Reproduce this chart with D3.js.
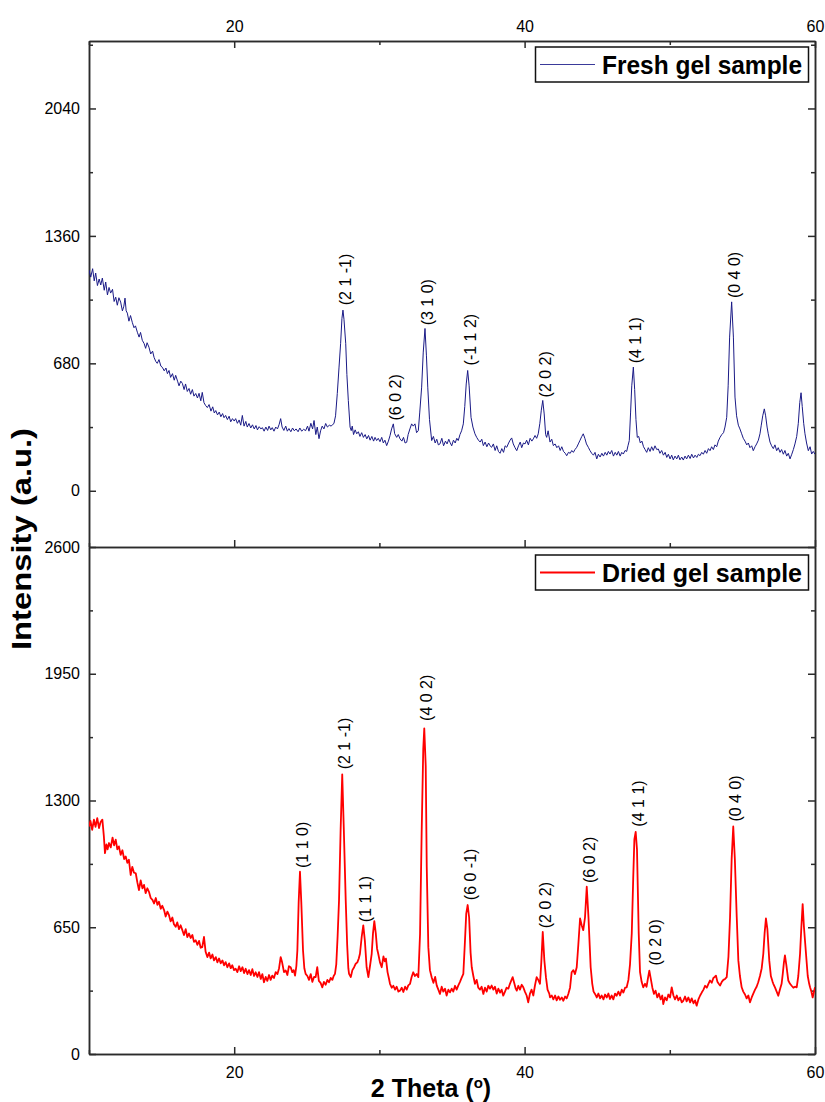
<!DOCTYPE html>
<html>
<head>
<meta charset="utf-8">
<script src="https://cdn.jsdelivr.net/npm/d3@7"></script>
<style>
  body { margin: 0; background: #fff; }
  svg { display: block; }
  text { font-family: "Liberation Sans", Arial, sans-serif; }
</style>
</head>
<body>
<div id="chart"></div>
<script>
// 2 theta (deg), intensity (a.u.)
const freshSeries = [
  [10.00,1178],[10.12,1140],[10.25,1185],[10.36,1120],[10.46,1162],[10.58,1095],[10.70,1130],[10.81,1098],[10.92,1135],[11.05,1070],
  [11.15,1114],[11.27,1045],[11.38,1085],[11.49,1055],[11.62,1075],[11.73,1010],[11.84,1033],[11.95,990],[12.06,1030],[12.18,1007],
  [12.30,960],[12.40,985],[12.48,1028],[12.56,960],[12.64,948],[12.75,905],[12.86,935],[12.98,899],[13.10,870],[13.20,880],
  [13.33,846],[13.45,820],[13.55,845],[13.67,803],[13.80,785],[13.90,760],[14.00,790],[14.13,766],[14.25,730],[14.38,745],
  [14.48,712],[14.60,690],[14.70,680],[14.82,700],[14.95,665],[15.05,659],[15.18,640],[15.30,655],[15.40,625],[15.51,642],
  [15.62,605],[15.75,625],[15.87,590],[15.97,616],[16.10,585],[16.20,560],[16.32,585],[16.43,573],[16.55,540],[16.65,570],
  [16.77,530],[16.89,546],[17.00,515],[17.12,540],[17.23,505],[17.35,519],[17.47,495],[17.58,520],[17.70,480],[17.80,525],
  [17.92,470],[18.03,455],[18.15,444],[18.27,460],[18.40,425],[18.52,448],[18.63,415],[18.73,428],[18.85,405],[18.97,420],
  [19.08,395],[19.20,412],[19.30,390],[19.41,402],[19.53,380],[19.65,398],[19.76,368],[19.88,385],[20.00,372],[20.10,385],
  [20.22,360],[20.34,378],[20.45,350],[20.56,402],[20.68,345],[20.80,370],[20.90,340],[21.02,359],[21.14,335],[21.26,352],
  [21.38,330],[21.50,348],[21.60,325],[21.72,342],[21.84,330],[21.94,337],[22.06,318],[22.18,340],[22.30,322],[22.40,345],
  [22.52,325],[22.62,337],[22.74,318],[22.86,340],[22.98,330],[23.10,355],[23.20,385],[23.30,340],[23.42,322],[23.55,345],
  [23.66,318],[23.77,332],[23.90,315],[24.02,335],[24.14,320],[24.26,330],[24.40,315],[24.52,335],[24.65,318],[24.78,328],
  [24.92,321],[25.05,345],[25.15,318],[25.28,360],[25.40,330],[25.50,375],[25.62,300],[25.72,340],[25.84,278],[25.95,320],
  [26.06,345],[26.18,330],[26.30,359],[26.42,340],[26.55,350],[26.68,345],[26.80,355],[26.87,359],[26.98,400],[27.10,519],
  [27.22,660],[27.33,787],[27.42,920],[27.49,964],[27.56,915],[27.68,787],[27.76,620],[27.86,482],[27.98,340],[28.06,321],
  [28.13,345],[28.22,300],[28.33,325],[28.44,304],[28.55,315],[28.66,290],[28.78,310],[28.90,285],[29.02,300],[29.13,277],
  [29.25,295],[29.36,270],[29.48,290],[29.60,265],[29.70,285],[29.81,268],[29.92,280],[30.04,262],[30.16,285],[30.27,255],
  [30.38,270],[30.50,241],[30.62,265],[30.73,294],[30.84,330],[30.96,357],[31.05,305],[31.19,285],[31.30,300],[31.42,277],
  [31.55,265],[31.66,285],[31.77,255],[31.88,259],[31.98,300],[32.10,330],[32.22,357],[32.33,345],[32.45,357],[32.56,310],
  [32.68,321],[32.78,420],[32.91,553],[33.02,740],[33.14,866],[33.24,720],[33.33,553],[33.45,380],[33.60,268],[33.72,290],
  [33.84,255],[33.95,275],[34.06,245],[34.17,250],[34.30,280],[34.42,240],[34.55,265],[34.66,250],[34.78,275],[34.86,259],
  [34.98,240],[35.10,270],[35.22,255],[35.33,280],[35.43,268],[35.55,300],[35.66,320],[35.78,357],[35.88,450],[35.98,570],
  [36.08,642],[36.18,560],[36.31,392],[36.44,340],[36.58,304],[36.70,285],[36.82,270],[36.94,260],[37.05,275],[37.16,241],
  [37.28,260],[37.40,235],[37.52,255],[37.62,240],[37.73,232],[37.85,250],[37.97,215],[38.08,240],[38.20,210],[38.31,200],
  [38.43,225],[38.55,205],[38.66,240],[38.77,232],[38.90,255],[39.00,270],[39.11,282],[39.22,250],[39.34,230],[39.46,214],
  [39.58,240],[39.70,260],[39.80,230],[39.92,255],[40.03,250],[40.14,270],[40.26,245],[40.38,280],[40.50,265],[40.60,277],
  [40.72,295],[40.83,280],[40.94,304],[41.05,360],[41.15,430],[41.25,482],[41.35,410],[41.45,300],[41.52,285],[41.62,320],
  [41.75,260],[41.87,275],[41.98,241],[42.10,250],[42.22,230],[42.34,240],[42.45,215],[42.56,235],[42.68,210],[42.80,200],
  [42.90,187],[43.02,205],[43.14,200],[43.25,215],[43.36,205],[43.47,220],[43.59,232],[43.70,250],[43.82,270],[43.94,290],
  [44.04,304],[44.15,280],[44.26,250],[44.39,232],[44.50,215],[44.62,200],[44.74,190],[44.85,205],[44.97,170],[45.08,195],
  [45.20,180],[45.32,200],[45.43,185],[45.55,205],[45.66,190],[45.77,210],[45.88,196],[46.00,215],[46.12,185],[46.24,205],
  [46.35,190],[46.46,210],[46.58,185],[46.69,205],[46.80,196],[46.92,215],[47.03,210],[47.12,240],[47.21,268],[47.30,420],
  [47.38,560],[47.49,660],[47.58,540],[47.67,380],[47.76,285],[47.86,290],[47.97,255],[48.08,265],[48.19,235],[48.30,220],
  [48.41,205],[48.52,230],[48.64,210],[48.75,235],[48.86,215],[48.98,240],[49.10,220],[49.21,223],[49.32,200],[49.44,215],
  [49.56,190],[49.68,205],[49.79,178],[49.90,195],[50.02,170],[50.13,190],[50.24,165],[50.36,185],[50.48,170],[50.59,190],
  [50.70,165],[50.82,180],[50.93,164],[51.05,185],[51.16,170],[51.28,190],[51.40,172],[51.51,195],[51.63,175],[51.74,190],
  [51.86,178],[51.97,195],[52.08,187],[52.20,205],[52.31,195],[52.43,215],[52.54,200],[52.66,225],[52.77,214],[52.88,235],
  [53.00,220],[53.11,245],[53.23,235],[53.34,265],[53.46,285],[53.58,300],[53.70,310],[53.80,340],[53.92,392],[54.02,560],
  [54.12,820],[54.26,1008],[54.38,820],[54.49,500],[54.60,400],[54.72,350],[54.83,330],[54.95,304],[55.06,280],[55.18,265],
  [55.30,245],[55.41,255],[55.52,230],[55.64,240],[55.75,214],[55.87,235],[55.98,250],[56.10,270],[56.21,304],[56.30,350],
  [56.40,400],[56.51,437],[56.60,400],[56.70,340],[56.78,304],[56.90,260],[57.01,240],[57.13,225],[57.24,245],[57.36,214],
  [57.47,230],[57.59,205],[57.70,220],[57.82,195],[57.93,215],[58.05,185],[58.16,200],[58.28,170],[58.40,195],[58.51,220],
  [58.62,250],[58.74,290],[58.85,360],[58.95,470],[59.04,523],[59.12,450],[59.22,360],[59.31,304],[59.42,255],[59.54,214],
  [59.66,235],[59.77,196],[59.88,210],[60.00,195]
];

const driedSeries = [
  [10.00,1167],[10.10,1195],[10.22,1150],[10.34,1202],[10.45,1165],[10.57,1210],[10.69,1159],[10.80,1190],[10.92,1202],[11.02,1120],
  [11.10,1030],[11.20,1075],[11.28,1050],[11.38,1082],[11.50,1060],[11.62,1110],[11.73,1070],[11.84,1099],[11.95,1050],[12.06,1065],
  [12.18,1021],[12.30,1045],[12.42,1000],[12.53,1013],[12.64,980],[12.75,996],[12.87,918],[12.98,960],[13.10,930],[13.22,927],
  [13.33,880],[13.44,841],[13.56,890],[13.68,850],[13.79,867],[13.90,825],[14.02,850],[14.13,832],[14.25,800],[14.37,790],
  [14.48,772],[14.60,800],[14.71,765],[14.82,781],[14.94,745],[15.05,760],[15.17,738],[15.28,705],[15.40,730],[15.51,712],
  [15.62,680],[15.74,700],[15.85,665],[15.97,652],[16.08,675],[16.20,640],[16.31,660],[16.43,635],[16.54,610],[16.66,640],
  [16.77,600],[16.89,618],[17.00,595],[17.12,610],[17.23,575],[17.35,583],[17.46,560],[17.58,580],[17.69,545],[17.80,548],
  [17.92,600],[18.03,525],[18.15,497],[18.27,520],[18.38,490],[18.50,510],[18.61,480],[18.73,497],[18.84,470],[18.96,490],
  [19.07,465],[19.19,480],[19.30,455],[19.41,471],[19.53,445],[19.65,465],[19.76,440],[19.87,455],[19.99,430],[20.10,437],
  [20.22,420],[20.34,450],[20.45,425],[20.57,445],[20.68,415],[20.79,437],[20.91,410],[21.02,430],[21.14,405],[21.25,435],
  [21.37,400],[21.48,419],[21.60,395],[21.71,420],[21.83,385],[21.94,410],[22.05,368],[22.17,395],[22.28,375],[22.40,405],
  [22.51,380],[22.62,402],[22.74,390],[22.86,420],[22.98,410],[23.09,440],[23.20,497],[23.30,470],[23.43,420],[23.55,428],
  [23.66,405],[23.77,450],[23.89,445],[24.00,420],[24.10,430],[24.19,402],[24.28,450],[24.35,531],[24.44,780],[24.53,935],
  [24.62,780],[24.74,531],[24.83,440],[24.92,411],[25.04,400],[25.15,380],[25.27,410],[25.38,370],[25.50,395],[25.61,394],
  [25.72,445],[25.83,375],[25.95,365],[26.07,342],[26.18,370],[26.30,355],[26.42,380],[26.53,368],[26.65,390],[26.76,380],
  [26.85,400],[26.94,411],[27.03,460],[27.12,600],[27.22,789],[27.33,1150],[27.44,1434],[27.55,1150],[27.68,789],[27.78,560],
  [27.86,440],[27.91,411],[28.03,395],[28.14,430],[28.26,445],[28.37,463],[28.48,470],[28.58,490],[28.66,514],[28.78,600],
  [28.89,660],[29.00,580],[29.12,445],[29.24,394],[29.35,450],[29.47,514],[29.56,620],[29.65,681],[29.75,620],[29.84,540],
  [29.92,514],[30.04,470],[30.16,445],[30.28,500],[30.37,475],[30.45,489],[30.56,420],[30.65,390],[30.73,360],[30.85,340],
  [30.96,350],[31.08,330],[31.19,345],[31.31,320],[31.42,325],[31.54,340],[31.65,318],[31.77,345],[31.88,330],[31.99,352],
  [32.11,360],[32.22,395],[32.33,419],[32.45,400],[32.57,410],[32.68,394],[32.80,617],[32.91,1133],[33.02,1563],[33.09,1670],
  [33.19,1477],[33.26,961],[33.37,548],[33.48,430],[33.60,394],[33.72,365],[33.84,395],[33.95,351],[34.06,330],[34.17,308],
  [34.29,345],[34.40,320],[34.52,335],[34.63,300],[34.75,330],[34.86,316],[34.98,335],[35.09,320],[35.21,350],[35.32,330],
  [35.43,351],[35.55,370],[35.66,390],[35.78,411],[35.88,560],[35.98,720],[36.08,764],[36.18,700],[36.28,520],[36.36,445],
  [36.47,400],[36.58,360],[36.70,380],[36.81,340],[36.93,330],[37.04,345],[37.16,308],[37.27,340],[37.39,320],[37.50,350],
  [37.62,335],[37.73,351],[37.85,330],[37.96,345],[38.08,310],[38.19,335],[38.31,315],[38.42,330],[38.53,299],[38.65,320],
  [38.76,340],[38.88,335],[38.99,360],[39.10,380],[39.18,394],[39.30,360],[39.39,335],[39.46,325],[39.57,350],[39.68,330],
  [39.80,355],[39.91,342],[40.02,320],[40.14,300],[40.25,265],[40.37,310],[40.48,330],[40.60,300],[40.71,350],[40.83,394],
  [40.94,380],[41.06,360],[41.15,470],[41.25,626],[41.36,480],[41.47,394],[41.58,330],[41.70,310],[41.75,290],[41.87,300],
  [41.98,280],[42.10,300],[42.21,275],[42.33,295],[42.44,278],[42.56,290],[42.67,273],[42.79,295],[42.90,285],[43.01,308],
  [43.13,340],[43.24,419],[43.36,430],[43.47,410],[43.59,445],[43.70,560],[43.82,695],[43.93,660],[44.04,635],[44.16,700],
  [44.28,858],[44.40,700],[44.55,445],[44.66,360],[44.75,320],[44.85,308],[44.97,290],[45.08,310],[45.20,285],[45.31,300],
  [45.43,280],[45.54,305],[45.66,290],[45.77,310],[45.88,282],[46.00,300],[46.11,280],[46.23,310],[46.34,299],[46.46,320],
  [46.57,300],[46.69,330],[46.80,315],[46.92,340],[47.03,342],[47.15,380],[47.26,460],[47.38,618],[47.48,900],[47.56,1100],
  [47.65,1139],[47.74,1050],[47.86,618],[47.95,420],[48.06,370],[48.17,342],[48.29,360],[48.40,345],[48.50,390],[48.59,428],
  [48.68,390],[48.80,340],[48.91,308],[49.02,325],[49.14,290],[49.25,310],[49.37,280],[49.48,300],[49.55,256],[49.67,290],
  [49.79,275],[49.90,305],[50.02,290],[50.13,342],[50.25,300],[50.36,280],[50.48,300],[50.59,275],[50.71,290],[50.82,265],
  [50.93,273],[51.05,295],[51.16,270],[51.28,290],[51.40,265],[51.51,285],[51.63,260],[51.74,275],[51.85,248],[51.97,280],
  [52.09,300],[52.20,315],[52.32,330],[52.43,350],[52.55,340],[52.66,360],[52.77,377],[52.89,365],[53.00,390],[53.09,395],
  [53.18,402],[53.28,370],[53.37,360],[53.46,351],[53.58,370],[53.69,380],[53.81,385],[53.92,394],[54.04,500],[54.15,703],
  [54.26,1000],[54.37,1167],[54.48,1000],[54.61,703],[54.72,480],[54.83,400],[54.95,342],[55.06,320],[55.18,305],[55.29,285],
  [55.41,300],[55.52,265],[55.64,290],[55.75,310],[55.87,330],[55.98,345],[56.09,368],[56.21,400],[56.33,440],[56.44,514],
  [56.53,620],[56.62,695],[56.72,640],[56.85,480],[56.96,400],[57.08,370],[57.13,360],[57.25,340],[57.36,320],[57.47,299],
  [57.58,330],[57.70,360],[57.78,411],[57.86,470],[57.93,506],[58.02,460],[58.16,377],[58.28,360],[58.39,350],[58.51,340],
  [58.62,345],[58.74,342],[58.85,400],[58.97,514],[59.06,650],[59.15,769],[59.24,650],[59.38,514],[59.50,400],[59.60,360],
  [59.66,342],[59.75,320],[59.84,290],[59.93,320],[60.00,342]
];

// [label, 2 theta of the peak, intensity where the label starts]
const freshPeaks = [
  ["(2 1 -1)", 27.49, 990], ["(6 0 2)", 30.96, 375], ["(3 1 0)", 33.14, 883], ["(-1 1 2)", 36.08, 669],
  ["(2 0 2)", 41.25, 498], ["(4 1 1)", 47.49, 680], ["(0 4 0)", 54.26, 1028]
];
const driedPeaks = [
  ["(1 1 0)", 24.53, 954], ["(2 1 -1)", 27.44, 1460], ["(1 1 1)", 28.89, 676], ["(4 0 2)", 33.09, 1708],
  ["(6 0 -1)", 36.08, 789], ["(2 0 2)", 41.25, 645], ["(6 0 2)", 44.28, 877], ["(4 1 1)", 47.65, 1166],
  ["(0 2 0)", 48.85, 454], ["(0 4 0)", 54.37, 1192]
];

const xMajorTicks = [20, 40, 60];
const xMinorTicks = [10, 30, 50];
const freshYTicks = [0, 680, 1360, 2040];
const freshYMinor = [340, 1020, 1700, 2380];
const driedYTicks = [0, 650, 1300, 1950, 2600];
const driedYMinor = [325, 975, 1625, 2275];

const W = 825, H = 1102;
const plotLeft = 89, plotRight = 815, plotTop = 41, plotMid = 547, plotBottom = 1054;
const axisColor = "#2b2b2b";
const fmt = d3.format("d");

const svg = d3.select("#chart").append("svg")
    .attr("width", W)
    .attr("height", H);

const x = d3.scaleLinear().domain([10, 60]).range([plotLeft, plotRight]);
const yFresh = d3.scaleLinear().domain([-300, 2400]).range([plotMid, plotTop]);
const yDried = d3.scaleLinear().domain([0, 2600]).range([plotBottom, plotMid]);

function addAxis(axis, transform) {
    const g = svg.append("g").attr("transform", transform).call(axis);
    g.attr("font-family", null);
    g.select(".domain").attr("stroke", axisColor).attr("stroke-width", 1.5);
    g.selectAll(".tick line").attr("stroke", axisColor).attr("stroke-width", 1.5);
    g.selectAll(".tick text")
        .attr("fill", "#000")
        .style("font-size", "16px");
    return g;
}

function drawPanel(y, yTicks, yMinor, y0, y1, id) {
    // left axis with labels
    addAxis(d3.axisLeft(y).tickValues(yTicks).tickSize(-7).tickSizeOuter(0).tickPadding(9).tickFormat(fmt),
        `translate(${plotLeft},0)`);
    addAxis(d3.axisLeft(y).tickValues(yMinor).tickSize(-4).tickSizeOuter(0).tickFormat(""),
        `translate(${plotLeft},0)`);
    // right axis, ticks only
    addAxis(d3.axisRight(y).tickValues(yTicks).tickSize(-7).tickSizeOuter(0).tickFormat(""),
        `translate(${plotRight},0)`);
    addAxis(d3.axisRight(y).tickValues(yMinor).tickSize(-4).tickSizeOuter(0).tickFormat(""),
        `translate(${plotRight},0)`);

    svg.append("clipPath").attr("id", id)
        .append("rect")
        .attr("x", plotLeft).attr("y", y1)
        .attr("width", plotRight - plotLeft).attr("height", y0 - y1);
}

drawPanel(yFresh, freshYTicks, freshYMinor, plotMid, plotTop, "clip-fresh");
drawPanel(yDried, driedYTicks, driedYMinor, plotBottom, plotMid, "clip-dried");

// top x axis of the fresh panel (labelled)
addAxis(d3.axisTop(x).tickValues(xMajorTicks).tickSize(-7).tickSizeOuter(0).tickPadding(9).tickFormat(fmt),
    `translate(0,${plotTop})`);
addAxis(d3.axisTop(x).tickValues(xMinorTicks).tickSize(-4).tickSizeOuter(0).tickFormat(""),
    `translate(0,${plotTop})`);
// shared line between the panels, ticks point into the fresh panel
addAxis(d3.axisBottom(x).tickValues(xMajorTicks).tickSize(-7).tickSizeOuter(0).tickFormat(""),
    `translate(0,${plotMid})`);
addAxis(d3.axisBottom(x).tickValues(xMinorTicks).tickSize(-4).tickSizeOuter(0).tickFormat(""),
    `translate(0,${plotMid})`);
// bottom x axis (labelled)
addAxis(d3.axisBottom(x).tickValues(xMajorTicks).tickSize(-7).tickSizeOuter(0).tickPadding(13).tickFormat(fmt),
    `translate(0,${plotBottom})`);
addAxis(d3.axisBottom(x).tickValues(xMinorTicks).tickSize(-4).tickSizeOuter(0).tickFormat(""),
    `translate(0,${plotBottom})`);

// patterns
const lineFresh = d3.line().x(d => x(d[0])).y(d => yFresh(d[1]));
const lineDried = d3.line().x(d => x(d[0])).y(d => yDried(d[1]));

svg.append("path")
    .datum(freshSeries)
    .attr("clip-path", "url(#clip-fresh)")
    .attr("fill", "none")
    .attr("stroke", "#1a1a86")
    .attr("stroke-width", 1)
    .attr("stroke-linejoin", "round")
    .attr("d", lineFresh);

svg.append("path")
    .datum(driedSeries)
    .attr("clip-path", "url(#clip-dried)")
    .attr("fill", "none")
    .attr("stroke", "#ff0000")
    .attr("stroke-width", 1.8)
    .attr("stroke-linejoin", "round")
    .attr("d", lineDried);

// peak (hkl) labels, rotated
function peakLabels(peaks, y) {
    svg.append("g").selectAll("text")
        .data(peaks)
        .enter()
        .append("text")
        .attr("transform", d => `translate(${x(d[1]) + 8},${y(d[2])}) rotate(-90)`)
        .attr("text-anchor", "start")
        .style("font-size", "16px")
        .attr("fill", "#000")
        .text(d => d[0]);
}
peakLabels(freshPeaks, yFresh);
peakLabels(driedPeaks, yDried);

// legends
function legend(y0, label, color, width) {
    const g = svg.append("g");
    g.append("rect")
        .attr("x", 535.5).attr("y", y0)
        .attr("width", 273).attr("height", 35)
        .attr("fill", "#fff")
        .attr("stroke", "#111")
        .attr("stroke-width", 1.5);
    g.append("line")
        .attr("x1", 540).attr("x2", 595)
        .attr("y1", y0 + 17.5).attr("y2", y0 + 17.5)
        .attr("stroke", color)
        .attr("stroke-width", width);
    g.append("text")
        .attr("x", 602).attr("y", y0 + 27)
        .attr("textLength", 200)
        .attr("lengthAdjust", "spacingAndGlyphs")
        .style("font-weight", "bold")
        .style("font-size", "25px")
        .text(label);
}
legend(47, "Fresh gel sample", "#3a3a9a", 1);
legend(555, "Dried gel sample", "#ff0000", 2);

// axis titles
svg.append("text")
    .attr("transform", "translate(31,539) rotate(-90)")
    .attr("text-anchor", "middle")
    .attr("textLength", 222)
    .attr("lengthAdjust", "spacingAndGlyphs")
    .style("font-weight", "bold")
    .style("font-size", "27px")
    .text("Intensity (a.u.)");

const xt = svg.append("text")
    .attr("x", 431).attr("y", 1097)
    .attr("text-anchor", "middle")
    .style("font-weight", "bold")
    .style("font-size", "25px");
xt.append("tspan").text("2 Theta (");
xt.append("tspan").attr("dy", -9).style("font-size", "15px").text("o");
xt.append("tspan").attr("dy", 9).text(")");
</script>
</body>
</html>
